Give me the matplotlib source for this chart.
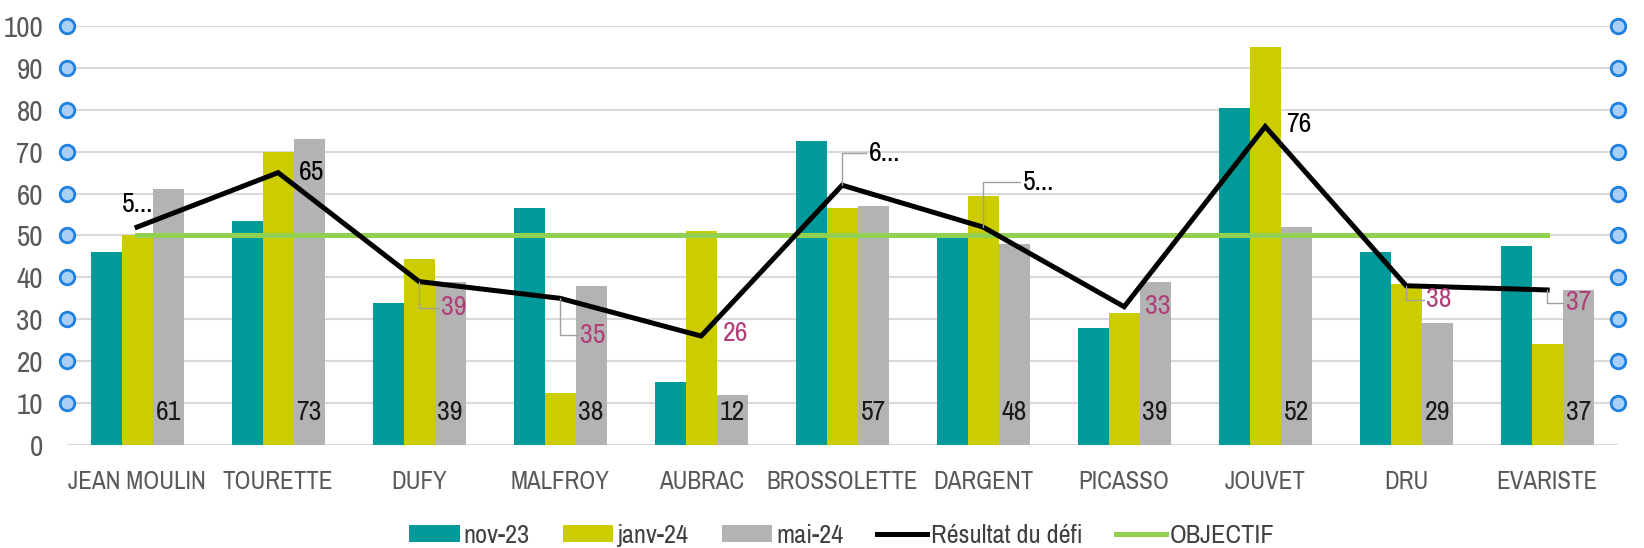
import numpy as np
import matplotlib
matplotlib.use('Agg')
import matplotlib.pyplot as plt
from matplotlib import font_manager
from matplotlib.transforms import blended_transform_factory

# police etroite si elle existe
noms = {f.name for f in font_manager.fontManager.ttflist}
etroites = [f.name for f in font_manager.fontManager.ttflist
            if 'narrow' in f.name.lower() or 'condensed' in f.name.lower()]
if 'Liberation Sans Narrow' in noms:
    plt.rcParams['font.family'] = ['Liberation Sans Narrow', 'DejaVu Sans']
elif etroites:
    plt.rcParams['font.family'] = [etroites[0], 'DejaVu Sans']
else:
    plt.rcParams['font.family'] = ['DejaVu Sans']
    plt.rcParams['font.stretch'] = 'condensed'

# donnees
ecoles = ['JEAN MOULIN', 'TOURETTE', 'DUFY', 'MALFROY', 'AUBRAC', 'BROSSOLETTE',
          'DARGENT', 'PICASSO', 'JOUVET', 'DRU', 'EVARISTE']
nov23 = [46, 53.5, 34, 56.5, 15, 72.5, 50, 28, 80.5, 46, 47.5]
janv24 = [50, 70, 44.5, 12.5, 51, 56.5, 59.5, 31.5, 95, 38.5, 24]
mai24 = [61, 73, 39, 38, 12, 57, 48, 39, 52, 29, 37]
resultat = [52, 65, 39, 35, 26, 62, 52, 33, 76, 38, 37]
resultat_labels = ['5...', '65', '39', '35', '26', '6...', '5...', '33', '76', '38', '37']
objectif = [50] * len(ecoles)

teal = '#009a9a'
jaune = '#cccc00'
gris = '#b3b3b3'
vert = '#92d050'
rose = '#b0407a'

fig = plt.figure(figsize=(16.44, 5.48), dpi=100)
ax = fig.add_axes([0.0405, 0.188, 0.9435, 0.7646])

x = np.arange(len(ecoles))
w = 0.22
b1 = ax.bar(x - w, nov23, w, color=teal, label='nov-23', zorder=2)
b2 = ax.bar(x, janv24, w, color=jaune, label='janv-24', zorder=2)
b3 = ax.bar(x + w, mai24, w, color=gris, label='mai-24', zorder=2)
l1, = ax.plot(x, resultat, color='black', lw=3.6, label='Résultat du défi', zorder=4,
              solid_joinstyle='miter')
l2, = ax.plot(x, objectif, color=vert, lw=3.6, label='OBJECTIF', zorder=3)

# etiquettes mai-24 en bas des barres
for xi, v in zip(x, mai24):
    ax.annotate(str(v), (xi + w, 0), xytext=(0, 32), textcoords='offset pixels',
                ha='center', va='center', fontsize=20, color='#1a1a1a', zorder=5)

# etiquettes du resultat
offsets = [(0, 23), (33, 0), (35, -26), (33, -37), (34, 3), (42, 32),
           (55, 45), (34, 0), (34, 2), (33, -14), (31, -13)]
leaders = [False, False, True, True, False, True, True, False, False, True, True]
for xi, v, lab, off, lead in zip(x, resultat, resultat_labels, offsets, leaders):
    col = 'black' if v >= 50 else rose
    arrow = None
    if lead:
        arrow = dict(arrowstyle='-', color='#a0a0a0', lw=1,
                     connectionstyle='angle,angleA=0,angleB=90,rad=0',
                     shrinkA=0, shrinkB=0, relpos=(0, 0.5))
    ax.annotate(lab, (xi, v), xytext=off, textcoords='offset pixels',
                ha='center', va='center', fontsize=20, color=col,
                arrowprops=arrow, zorder=6)

ax.set_xlim(-0.5, len(ecoles) - 0.5)
ax.set_ylim(0, 100)
ax.set_yticks(range(0, 101, 10))
ax.set_xticks(x)
ax.set_xticklabels(ecoles)
ax.tick_params(axis='x', length=0, pad=18, labelsize=18, labelcolor='#595959')
ax.tick_params(axis='y', length=0, pad=17, labelsize=21, labelcolor='#595959')
ax.grid(axis='y', color='#d9d9d9', lw=1.5, zorder=0)
ax.set_axisbelow(True)
for s in ax.spines.values():
    s.set_visible(False)

# petits cercles bleus sur les deux axes
trans = blended_transform_factory(ax.transAxes, ax.transData)
yc = np.arange(10, 101, 10)
for xa in (0, 1):
    ax.scatter([xa] * len(yc), yc, s=110, facecolor='#a9cff5', edgecolor='#1e80e0',
               linewidth=2, transform=trans, clip_on=False, zorder=7)

ax.legend([b1, b2, b3, l1, l2], ['nov-23', 'janv-24', 'mai-24', 'Résultat du défi', 'OBJECTIF'],
          loc='center', bbox_to_anchor=(0.5, -0.215), ncol=5, frameon=False,
          fontsize=19, handlelength=1.9, handleheight=0.6, handletextpad=0.15,
          columnspacing=1.27, labelcolor='#404040')

fig.savefig('out.png', dpi=100)
